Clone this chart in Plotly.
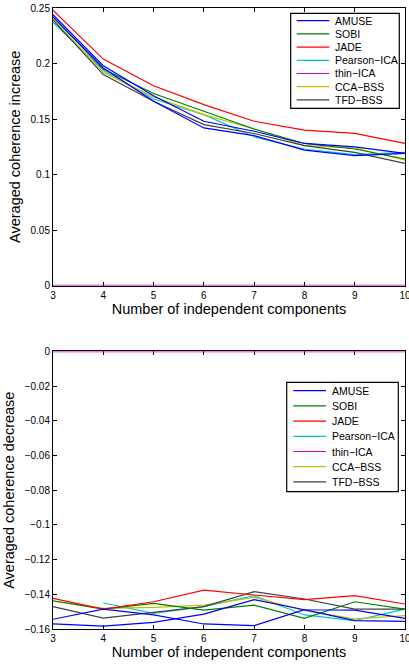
import plotly.graph_objects as go

components = [3, 4, 5, 6, 7, 8, 9, 10]
methods = ["AMUSE", "SOBI", "JADE", "Pearson\u2212ICA", "thin\u2212ICA", "CCA\u2212BSS", "TFD\u2212BSS"]
colors = ["#0000ff", "#008000", "#ff0000", "#00c8c8", "#d000d0", "#c0c000", "#404040"]

# Averaged coherence increase (top panel)
inc_amuse = [0.244, 0.198, 0.171, 0.148, 0.139, 0.128, 0.125, 0.119]
inc_amuse_b = [0.242, 0.196, 0.166, 0.142, 0.135, 0.122, 0.117, 0.119]
inc_sobi = [0.242, 0.195, 0.173, 0.157, 0.141, 0.128, 0.123, 0.114]
inc_jade = [0.248, 0.204, 0.180, 0.163, 0.148, 0.140, 0.137, 0.128]
inc_pearson = [0.237, 0.194, 0.168, 0.154, 0.134, 0.123, 0.118, 0.120]
inc_thin = [0, 0, 0, 0, 0, 0, 0, 0]
inc_cca = [0.240, 0.192, 0.170, 0.154, 0.141, 0.126, 0.124, 0.113]
inc_tfd = [0.239, 0.190, 0.166, 0.145, 0.137, 0.126, 0.120, 0.110]

# Averaged coherence decrease (bottom panel)
dec_amuse = [-0.1544, -0.1485, -0.1519, -0.1571, -0.1581, -0.1489, -0.1552, -0.1556]
dec_amuse_b = [-0.1571, -0.1583, -0.1562, -0.1514, -0.1431, -0.1489, -0.1491, -0.1539]
dec_sobi = [-0.1437, -0.1485, -0.1452, -0.1491, -0.1462, -0.1539, -0.1443, -0.1485]
dec_jade = [-0.1423, -0.1485, -0.1443, -0.1376, -0.1404, -0.1431, -0.1408, -0.1456]
dec_pearson = [None, -0.1450, -0.1510, -0.1471, -0.1408, -0.1519, -0.1552, -0.1485]
dec_thin = [0, 0, 0, 0, 0, 0, 0, 0]
dec_cca = [-0.1440, -0.1481, -0.1475, -0.1462, -0.1418, -0.1494, -0.1542, -0.1523]
dec_tfd = [-0.1471, -0.1537, -0.1504, -0.1471, -0.1385, -0.1427, -0.1485, -0.1485]

FONT = "Liberation Sans, Arial, Helvetica, sans-serif"

fig = go.Figure()

top_series = [
    (inc_pearson, 3), (inc_cca, 5), (inc_tfd, 6),
    (inc_sobi, 1), (inc_jade, 2), (inc_amuse_b, 0), (inc_amuse, 0), (inc_thin, 4),
]
bot_series = [
    (dec_pearson, 3), (dec_cca, 5), (dec_tfd, 6),
    (dec_sobi, 1), (dec_jade, 2), (dec_amuse_b, 0), (dec_amuse, 0), (dec_thin, 4),
]

for vals, ci in top_series:
    fig.add_trace(go.Scatter(x=components, y=vals, mode="lines", xaxis="x", yaxis="y",
                             line=dict(color=colors[ci], width=1.5 if ci == 4 else 1.2),
                             showlegend=False, cliponaxis=False, name=methods[ci]))
for vals, ci in bot_series:
    fig.add_trace(go.Scatter(x=components, y=vals, mode="lines", xaxis="x2", yaxis="y2",
                             line=dict(color=colors[ci], width=1.5 if ci == 4 else 1.2),
                             showlegend=False, cliponaxis=False, name=methods[ci]))

axis_common = dict(showline=True, linecolor="black", linewidth=1, mirror="ticks",
                   ticks="inside", ticklen=4, tickcolor="black", showgrid=False,
                   zeroline=False, tickfont=dict(size=10, color="black", family=FONT),
                   layer="below traces", automargin=False, ticklabeloverflow="allow")

fig.update_layout(
    width=409, height=666,
    margin=dict(l=53, r=4, t=8, b=37, autoexpand=False),
    paper_bgcolor="white", plot_bgcolor="white",
    font=dict(family=FONT, color="black"),
    showlegend=False,
    xaxis=dict(domain=[0, 1], anchor="y", range=[3, 10], dtick=1,
               title=dict(text="Number of independent components", font=dict(size=14.5), standoff=2),
               **axis_common),
    yaxis=dict(domain=[0.553, 1.0], anchor="x", range=[0, 0.25], dtick=0.05,
               title=dict(text="Averaged coherence increase", font=dict(size=14.5), standoff=6),
               **axis_common),
    xaxis2=dict(domain=[0, 1], anchor="y2", range=[3, 10], dtick=1,
                title=dict(text="Number of independent components", font=dict(size=14.5), standoff=2),
                **axis_common),
    yaxis2=dict(domain=[0, 0.447], anchor="x2", range=[-0.16, 0], dtick=0.02,
                title=dict(text="Averaged coherence decrease", font=dict(size=14.5), standoff=6),
                **axis_common),
)

# Legends (MATLAB-style boxed legends), positioned in axis-domain fractions
PX0, PX1 = 53.0, 405.0
PW = PX1 - PX0


def fx(px):
    return (px - PX0) / PW


def add_legend(xref, yref, ybottom_px, box, line_x, text_x, y_first, y_step):
    ph = 277.6

    def fy(py):
        return (ybottom_px - py) / ph

    fig.add_shape(type="rect", xref=xref, yref=yref,
                  x0=fx(box[0]), x1=fx(box[1]), y0=fy(box[3]), y1=fy(box[2]),
                  line=dict(color="black", width=1.2), fillcolor="white", layer="above")
    for i, name in enumerate(methods):
        yc = y_first + i * y_step
        fig.add_shape(type="line", xref=xref, yref=yref,
                      x0=fx(line_x[0]), x1=fx(line_x[1]), y0=fy(yc), y1=fy(yc),
                      line=dict(color=colors[i], width=1.2), layer="above")
        fig.add_annotation(xref=xref, yref=yref, x=fx(text_x), y=fy(yc),
                           text=name, showarrow=False, xanchor="left", yanchor="middle",
                           font=dict(size=10.5, color="black", family=FONT))


add_legend("x domain", "y domain", 285.6, (290.7, 399.3, 13.3, 108.3),
           (296.7, 329.3), 332.5, 20.7, 13.2)
add_legend("x2 domain", "y2 domain", 629.0, (286.7, 398.3, 382.3, 491.7),
           (293.3, 326.0), 330.0, 390.7, 15.2)

fig.write_html("out.html", config={"displayModeBar": False},
               post_script="document.body.style.margin='0';document.body.style.padding='0';")
